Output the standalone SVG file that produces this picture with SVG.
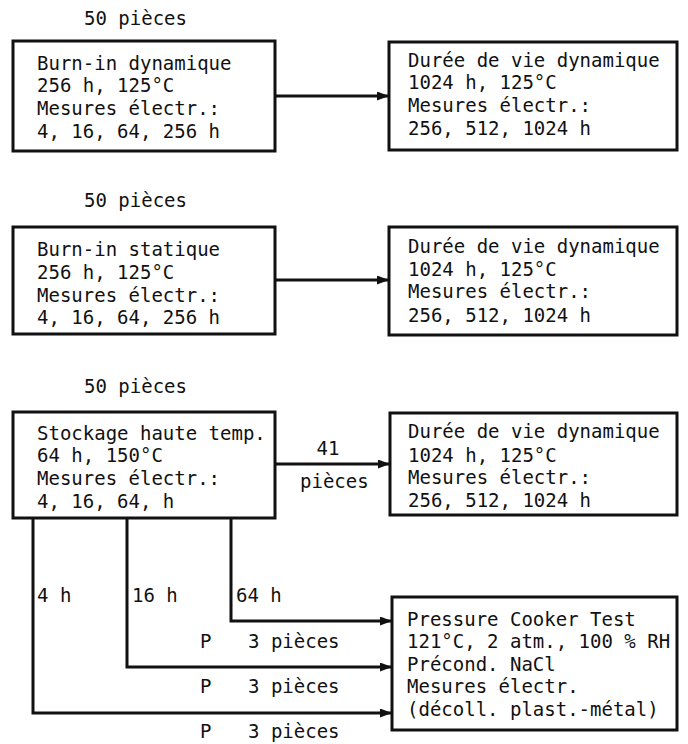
<svg xmlns="http://www.w3.org/2000/svg" width="688" height="744" viewBox="0 0 688 744">
<style>
text { font-family: "DejaVu Sans Mono", "Liberation Mono", monospace; font-size: 19px; fill: #111; }
.box { fill: #fff; stroke: #111; stroke-width: 3; }
.con { fill: none; stroke: #111; stroke-width: 3; }
</style>
<defs>
<marker id="ah" markerUnits="userSpaceOnUse" markerWidth="14" markerHeight="10" refX="12" refY="4.5" orient="auto">
<path d="M0,0 L12,4.5 L0,9 z" fill="#111"/>
</marker>
</defs>
<rect width="688" height="744" fill="#fff"/>
<g id="connectors">
<path class="con" d="M275,96 H389" marker-end="url(#ah)"/>
<path class="con" d="M275,280 H389" marker-end="url(#ah)"/>
<path class="con" d="M275,464 H390" marker-end="url(#ah)"/>
<path class="con" d="M231,518 V621 H392" marker-end="url(#ah)"/>
<path class="con" d="M127,518 V667 H392" marker-end="url(#ah)"/>
<path class="con" d="M33,518 V713 H392" marker-end="url(#ah)"/>
<text x="328" y="455" text-anchor="middle">41</text>
<text x="300" y="488">pièces</text>
<text x="37" y="602">4 h</text>
<text x="132" y="602">16 h</text>
<text x="236" y="602">64 h</text>
<text x="200" y="648">P</text>
<text x="248" y="648">3 pièces</text>
<text x="200" y="693">P</text>
<text x="248" y="693">3 pièces</text>
<text x="200" y="738">P</text>
<text x="248" y="738">3 pièces</text>
</g>
<g id="label1"><text x="84" y="25">50 pièces</text></g>
<g id="label2"><text x="84" y="207">50 pièces</text></g>
<g id="label3"><text x="84" y="393">50 pièces</text></g>
<g id="burnin-dyn">
<rect class="box" x="13" y="41" width="262" height="110"/>
<text x="37" y="70">Burn-in dynamique</text>
<text x="37" y="92">256 h, 125°C</text>
<text x="37" y="115">Mesures électr.:</text>
<text x="37" y="138">4, 16, 64, 256 h</text>
</g>
<g id="duree1">
<rect class="box" x="389" y="42" width="288" height="108"/>
<text x="408" y="67">Durée de vie dynamique</text>
<text x="408" y="89">1024 h, 125°C</text>
<text x="408" y="112">Mesures électr.:</text>
<text x="408" y="135">256, 512, 1024 h</text>
</g>
<g id="burnin-stat">
<rect class="box" x="13" y="227" width="262" height="107"/>
<text x="37" y="256">Burn-in statique</text>
<text x="37" y="279">256 h, 125°C</text>
<text x="37" y="302">Mesures électr.:</text>
<text x="37" y="324">4, 16, 64, 256 h</text>
</g>
<g id="duree2">
<rect class="box" x="389" y="227" width="288" height="108"/>
<text x="408" y="253">Durée de vie dynamique</text>
<text x="408" y="276">1024 h, 125°C</text>
<text x="408" y="298">Mesures électr.:</text>
<text x="408" y="322">256, 512, 1024 h</text>
</g>
<g id="stockage">
<rect class="box" x="13" y="412" width="262" height="106"/>
<text x="37" y="440">Stockage haute temp.</text>
<text x="37" y="462">64 h, 150°C</text>
<text x="37" y="485">Mesures électr.:</text>
<text x="37" y="508">4, 16, 64, h</text>
</g>
<g id="duree3">
<rect class="box" x="390" y="413" width="287" height="102"/>
<text x="408" y="438">Durée de vie dynamique</text>
<text x="408" y="462">1024 h, 125°C</text>
<text x="408" y="484">Mesures électr.:</text>
<text x="408" y="507">256, 512, 1024 h</text>
</g>
<g id="pct">
<rect class="box" x="392" y="597" width="285" height="133"/>
<text x="407" y="626">Pressure Cooker Test</text>
<text x="407" y="648">121°C, 2 atm., 100 % RH</text>
<text x="407" y="671">Précond. NaCl</text>
<text x="407" y="693">Mesures électr.</text>
<text x="407" y="716">(décoll. plast.-métal)</text>
</g>
</svg>
